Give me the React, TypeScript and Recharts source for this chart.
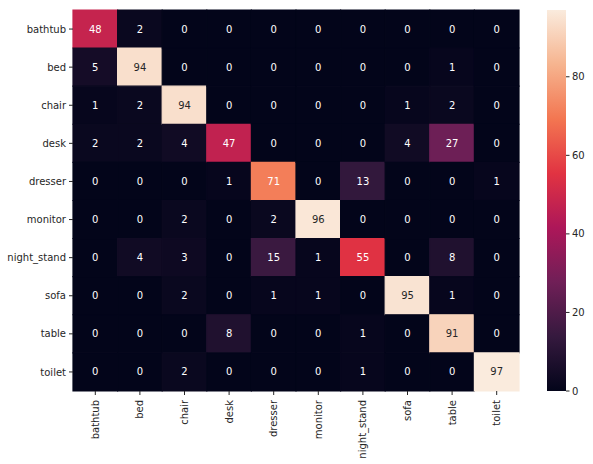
import React from 'react';
import { BarChart, Bar, XAxis, YAxis, Cell, LabelList } from 'recharts';

// confusion matrix, rows = true class, columns = predicted class
const classes = ['bathtub', 'bed', 'chair', 'desk', 'dresser', 'monitor', 'night_stand', 'sofa', 'table', 'toilet'];

const bathtubRow = [48, 2, 0, 0, 0, 0, 0, 0, 0, 0];
const bedRow = [5, 94, 0, 0, 0, 0, 0, 0, 1, 0];
const chairRow = [1, 2, 94, 0, 0, 0, 0, 1, 2, 0];
const deskRow = [2, 2, 4, 47, 0, 0, 0, 4, 27, 0];
const dresserRow = [0, 0, 0, 1, 71, 0, 13, 0, 0, 1];
const monitorRow = [0, 0, 2, 0, 2, 96, 0, 0, 0, 0];
const nightStandRow = [0, 4, 3, 0, 15, 1, 55, 0, 8, 0];
const sofaRow = [0, 0, 2, 0, 1, 1, 0, 95, 1, 0];
const tableRow = [0, 0, 0, 8, 0, 0, 1, 0, 91, 0];
const toiletRow = [0, 0, 2, 0, 0, 0, 1, 0, 0, 97];

const counts = [bathtubRow, bedRow, chairRow, deskRow, dresserRow, monitorRow, nightStandRow, sofaRow, tableRow, toiletRow];

const colorbarTicks = [0, 20, 40, 60, 80];
const vmin = 0;
const vmax = 97;

// seaborn "rocket" colormap, sampled
const rocketStops: [number, string][] = [
  [0, '#03051a'],
  [0.143, '#35193e'],
  [0.286, '#701f57'],
  [0.429, '#ad1759'],
  [0.571, '#e13342'],
  [0.714, '#f37651'],
  [0.857, '#f6b48f'],
  [1, '#faebdd'],
];

const hex = (c: string) => [1, 3, 5].map((k) => parseInt(c.slice(k, k + 2), 16));

const rocket = (v: number) => {
  const t = Math.max(0, Math.min(1, (v - vmin) / (vmax - vmin)));
  for (let k = 1; k < rocketStops.length; k++) {
    const [t1, c1] = rocketStops[k];
    if (t <= t1) {
      const [t0, c0] = rocketStops[k - 1];
      const f = (t - t0) / (t1 - t0);
      const a = hex(c0);
      const b = hex(c1);
      const m = a.map((x, i) => Math.round(x + (b[i] - x) * f));
      return `rgb(${m[0]},${m[1]},${m[2]})`;
    }
  }
  return rocketStops[rocketStops.length - 1][1];
};

// pick annotation colour like seaborn does (relative luminance)
const textColor = (v: number) => {
  const m = rocket(v).match(/\d+/g)!.map(Number);
  const lin = m.map((x) => {
    const c = x / 255;
    return c <= 0.03928 ? c / 12.92 : Math.pow((c + 0.055) / 1.055, 2.4);
  });
  const lum = 0.2126 * lin[0] + 0.7152 * lin[1] + 0.0722 * lin[2];
  return lum > 0.408 ? '#262626' : '#ffffff';
};

const rows = classes.map((name, i) => {
  const r: Record<string, any> = { name };
  classes.forEach((_, j) => {
    r[`c${j}`] = 1;
    r[`v${j}`] = counts[i][j];
  });
  return r;
});

const font = 'DejaVu Sans, sans-serif';

const XTick = ({ x, y, payload }: any) => (
  <text
    transform={`translate(${x},${y}) rotate(-90)`}
    x={0}
    y={0}
    dy={3.5}
    textAnchor="end"
    fontSize={10}
    fontFamily={font}
    fill="#262626"
  >
    {classes[Math.floor(payload.value)]}
  </text>
);

const CellLabel = ({ x, y, width, height, value }: any) => (
  <text
    x={x + width / 2}
    y={y + height / 2}
    dy={3.5}
    textAnchor="middle"
    fontSize={10}
    fontFamily={font}
    fill={textColor(value)}
  >
    {value}
  </text>
);

export default function App() {
  return (
    <div style={{ position: 'absolute', left: 0, top: 0, width: 593, height: 464, background: '#fff' }}>
      <div style={{ position: 'absolute', left: 0, top: 0 }}>
        <BarChart
          width={593}
          height={464}
          data={rows}
          layout="vertical"
          barCategoryGap={0}
          barGap={0}
          margin={{ top: 10, right: 74, bottom: 0, left: 0 }}
        >
          <XAxis
            type="number"
            domain={[0, classes.length]}
            ticks={classes.map((_, j) => j + 0.5)}
            interval={0}
            height={73}
            axisLine={false}
            tickSize={4}
            tickMargin={5}
            tickLine={{ stroke: '#262626' }}
            tick={<XTick />}
          />
          <YAxis
            type="category"
            dataKey="name"
            width={73}
            interval={0}
            axisLine={false}
            tickSize={4}
            tickMargin={3}
            tickLine={{ stroke: '#262626' }}
            tick={{ fontSize: 10, fontFamily: font, fill: '#262626' }}
          />
          {classes.map((_, j) => (
            <Bar key={j} dataKey={`c${j}`} stackId="m" isAnimationActive={false}>
              {counts.map((row, i) => (
                <Cell key={i} fill={rocket(row[j])} stroke={rocket(row[j])} strokeWidth={1.2} />
              ))}
              <LabelList dataKey={`v${j}`} content={<CellLabel />} />
            </Bar>
          ))}
        </BarChart>
      </div>
      <div style={{ position: 'absolute', left: 547, top: 0 }}>
        <BarChart
          width={46}
          height={464}
          data={[{ name: 'cb', v: vmax }]}
          barCategoryGap={0}
          margin={{ top: 10, right: 0, bottom: 73, left: 0 }}
        >
          <defs>
            <linearGradient id="rocketGrad" x1="0" y1="1" x2="0" y2="0">
              {rocketStops.map(([t, c]) => (
                <stop key={t} offset={`${t * 100}%`} stopColor={c} />
              ))}
            </linearGradient>
          </defs>
          <XAxis dataKey="name" hide />
          <YAxis
            type="number"
            orientation="right"
            domain={[vmin, vmax]}
            ticks={colorbarTicks}
            width={27}
            axisLine={false}
            tickSize={3.5}
            tickMargin={2.5}
            tickLine={{ stroke: '#262626' }}
            tick={{ fontSize: 10, fontFamily: font, fill: '#262626' }}
          />
          <Bar dataKey="v" fill="url(#rocketGrad)" isAnimationActive={false} />
        </BarChart>
      </div>
    </div>
  );
}
